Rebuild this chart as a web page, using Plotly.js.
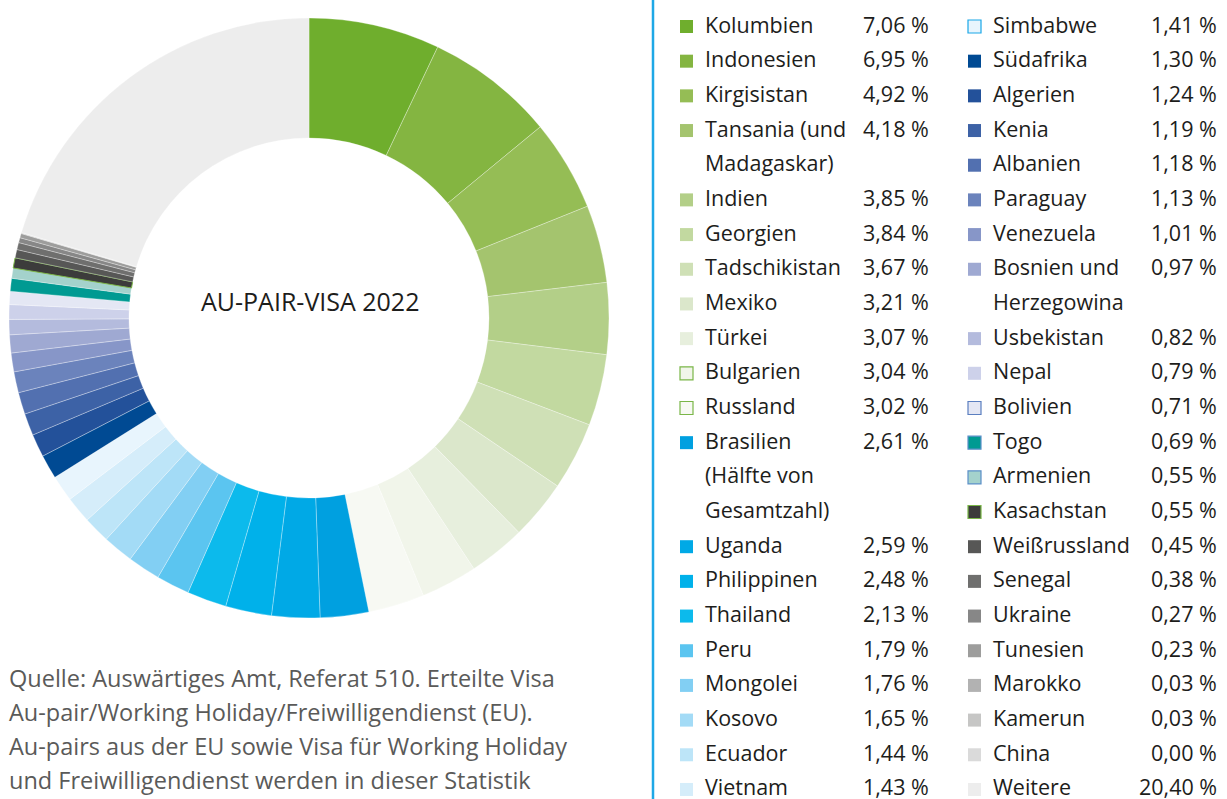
<!DOCTYPE html>
<html>
<head>
<meta charset="utf-8">
<script src="https://cdn.plot.ly/plotly-3.0.1.min.js"></script>
<style>
  html, body { margin: 0; padding: 0; background: #ffffff; }
  #chart { width: 1227px; height: 799px; }
</style>
</head>
<body>
<div id="chart"></div>
<script>
// ---- Data ----
const countries = [
  'Kolumbien', 'Indonesien', 'Kirgisistan', 'Tansania (und|Madagaskar)', 'Indien', 'Georgien',
  'Tadschikistan', 'Mexiko', 'Türkei', 'Bulgarien', 'Russland',
  'Brasilien|(Hälfte von|Gesamtzahl)', 'Uganda', 'Philippinen', 'Thailand', 'Peru', 'Mongolei',
  'Kosovo', 'Ecuador', 'Vietnam',
  'Simbabwe', 'Südafrika', 'Algerien', 'Kenia', 'Albanien', 'Paraguay', 'Venezuela',
  'Bosnien und|Herzegowina', 'Usbekistan', 'Nepal', 'Bolivien', 'Togo', 'Armenien', 'Kasachstan',
  'Weißrussland', 'Senegal', 'Ukraine', 'Tunesien', 'Marokko', 'Kamerun', 'China', 'Weitere'
];
const shares = [
  7.06, 6.95, 4.92, 4.18, 3.85, 3.84,
  3.67, 3.21, 3.07, 3.04, 3.02,
  2.61, 2.59, 2.48, 2.13, 1.79, 1.76,
  1.65, 1.44, 1.43,
  1.41, 1.30, 1.24, 1.19, 1.18, 1.13, 1.01,
  0.97, 0.82, 0.79, 0.71, 0.69, 0.55, 0.55,
  0.45, 0.38, 0.27, 0.23, 0.03, 0.03, 0.00, 20.40
];
const sliceColors = [
  '#6fae2d', '#84b541', '#95bd55', '#a4c46e', '#b3cf88', '#c2d9a0',
  '#cfe0b6', '#dbe7cb', '#e7efdd', '#f1f5ea', '#f7f9f3',
  '#00a0e0', '#00a9e6', '#00b1ea', '#0cbaec', '#5bc5f0', '#82cff3',
  '#a3dbf6', '#bde5f8', '#d5edfa',
  '#e8f5fd', '#004a93', '#23519a', '#3d62a6', '#5270b0', '#6b83bc', '#8796c8',
  '#9fa9d2', '#b4bbdd', '#cdd1ea', '#e4e7f4', '#009a92', '#a4d2cc', '#3c3c3b',
  '#575756', '#6f6f6e', '#878787', '#9d9d9c', '#b2b2b2', '#c6c6c5', '#dadada', '#ededed'
];
// legend swatch outline colours (null = none)
const swatchBorders = [
  null, null, null, null, null, null, null, null, null, '#7ab648', '#7ab648',
  null, null, null, null, null, null, null, null, null,
  '#1aa7e8', null, null, null, null, null, null, null, null, null, '#5b7fc0', '#5b8fc8', '#5b8fc8', '#7ab648',
  null, null, null, null, null, null, null, null
];
const firstColumnCount = 20;
const centerTitle = 'AU-PAIR-VISA 2022';
const sourceLines = [
  'Quelle: Auswärtiges Amt, Referat 510. Erteilte Visa',
  'Au-pair/Working Holiday/Freiwilligendienst (EU).',
  'Au-pairs aus der EU sowie Visa für Working Holiday',
  'und Freiwilligendienst werden in dieser Statistik'
];

// ---- Layout helpers ----
const W = 1227, H = 799;
const px = x => x / W;
const py = y => 1 - y / H;
const FONT = 'Open Sans, Noto Sans, sans-serif';
const TXT = '#1d1d1b';

const sliceLineColors = countries.map(c => c === 'Kasachstan' ? '#7ab648' : 'rgba(255,255,255,0.6)');
const sliceLineWidths = countries.map(c => c === 'Kasachstan' ? 1 : 0.5);

const pie = {
  type: 'pie',
  labels: countries.map(c => c.split('|').join(' ')),
  values: shares,
  sort: false,
  direction: 'clockwise',
  rotation: 0,
  hole: 0.6,
  textinfo: 'none',
  hoverinfo: 'label+value',
  marker: { colors: sliceColors, line: { color: sliceLineColors, width: sliceLineWidths } },
  domain: { x: [px(9), px(609)], y: [py(618), py(18)] },
  showlegend: false
};

const annotations = [];
const shapes = [];

// centre label
annotations.push({
  xref: 'paper', yref: 'paper', x: px(310), y: py(301),
  text: centerTitle, showarrow: false, xanchor: 'center', yanchor: 'middle',
  font: { family: FONT, size: 25, color: TXT }
});

// legend columns
const cols = [
  { sq: 680, name: 703, pct: 931 },
  { sq: 968, name: 991, pct: 1219 }
];
const rowY0 = 24, rowH = 34.68;
const rowCounter = [0, 0];
countries.forEach((c, i) => {
  const col = i < firstColumnCount ? 0 : 1;
  const C = cols[col];
  const parts = c.split('|');
  const r = rowCounter[col];
  const y = rowY0 + r * rowH;
  shapes.push({
    type: 'rect', xref: 'paper', yref: 'paper',
    x0: px(C.sq), x1: px(C.sq + 13), y0: py(y + 9), y1: py(y - 4),
    fillcolor: sliceColors[i],
    line: swatchBorders[i] ? { color: swatchBorders[i], width: 1.2 } : { width: 0 }
  });
  annotations.push({
    xref: 'paper', yref: 'paper', x: px(C.pct), y: py(y),
    text: shares[i].toFixed(2).replace('.', ',') + ' %', showarrow: false,
    xanchor: 'right', yanchor: 'middle',
    font: { family: FONT, size: 21.5, color: TXT }
  });
  parts.forEach((p, k) => {
    annotations.push({
      xref: 'paper', yref: 'paper', x: px(C.name), y: py(rowY0 + (r + k) * rowH),
      text: p, showarrow: false, xanchor: 'left', yanchor: 'middle',
      font: { family: FONT, size: 21.5, color: TXT }
    });
  });
  rowCounter[col] += parts.length;
});

// separator line
shapes.push({
  type: 'line', xref: 'paper', yref: 'paper',
  x0: px(653), x1: px(653), y0: 0, y1: 1,
  line: { color: '#1ea8e6', width: 2.5 }
});

// source text
sourceLines.forEach((t, k) => {
  annotations.push({
    xref: 'paper', yref: 'paper', x: px(7), y: py(678 + k * 34),
    text: t, showarrow: false, xanchor: 'left', yanchor: 'middle',
    font: { family: FONT, size: 23.5, color: '#5a5a59' }
  });
});

const layout = {
  width: W, height: H,
  margin: { l: 0, r: 0, t: 0, b: 0 },
  paper_bgcolor: '#ffffff',
  plot_bgcolor: '#ffffff',
  showlegend: false,
  annotations, shapes
};

Plotly.newPlot('chart', [pie], layout, { displayModeBar: false, staticPlot: true });
</script>
</body>
</html>
